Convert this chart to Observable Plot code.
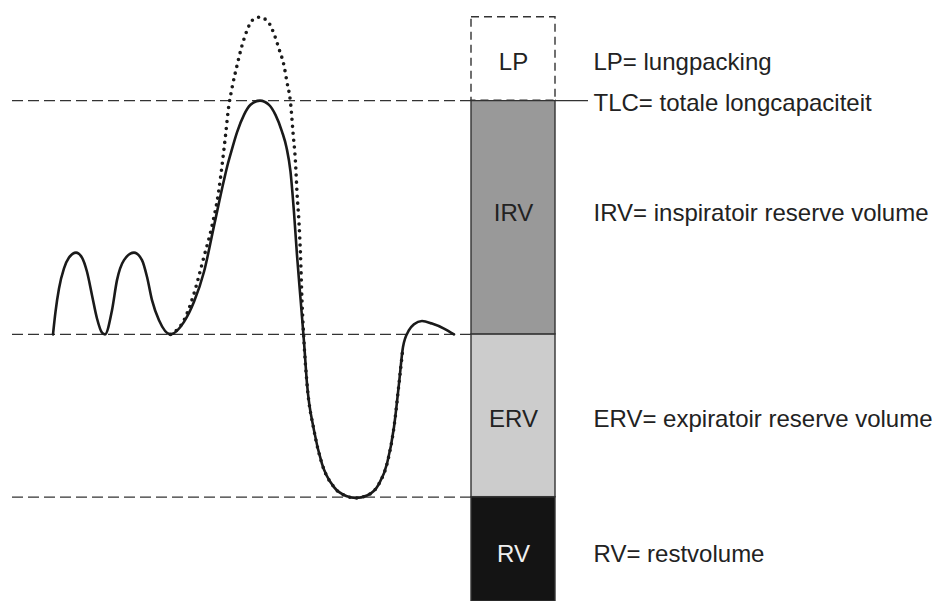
<!DOCTYPE html>
<html><head><meta charset="utf-8">
<script src="https://cdn.jsdelivr.net/npm/d3@7"></script>
<script src="https://cdn.jsdelivr.net/npm/@observablehq/plot@0.6"></script>
<style>
html,body{margin:0;padding:0;background:#fff;}
#chart svg{display:block;}
</style></head><body><div id="chart"></div>
<script>
// Lung volume levels (litres)
const levelNames = ["RV", "FRC", "TLC"];
const levelValues = [1.25, 3.2, 6.0];

// Stacked column segments
const segNames = ["RV", "ERV", "IRV", "LP"];
const segBottom = [0, 1.25, 3.2, 6.0];
const segTop = [1.25, 3.2, 6.0, 7.0];
const segLegend = ["RV= restvolume", "ERV= expiratoir reserve volume", "IRV= inspiratoir reserve volume", "LP= lungpacking"];
const tlcLabel = "TLC= totale longcapaciteit";

// Spirogram: time (s) and volume (L)
const breathT = [1.05,1.1,1.17,1.27,1.37,1.51,1.63,1.73,1.83,1.93,2.03,2.09,2.23,2.33,2.47,2.67,2.83,2.93,3.03,3.17,3.4,3.67,3.87,4.07,4.27,4.47,4.55,4.63,4.73,4.87,5.0,5.19,5.37,5.5,5.63,5.72,5.8,5.87,5.93,6.0,6.07,6.13,6.27,6.43,6.67,6.93,7.1,7.33,7.57,7.73,7.87,7.97,8.05,8.17,8.27,8.43,8.63,8.87,9.07];
const breathV = [3.2,3.47,3.75,3.99,4.12,4.18,4.12,3.95,3.67,3.39,3.22,3.2,3.49,3.85,4.09,4.18,4.09,3.89,3.61,3.37,3.2,3.35,3.59,3.95,4.5,5.05,5.25,5.42,5.62,5.83,5.95,6.0,5.95,5.83,5.63,5.44,5.15,4.66,4.15,3.63,3.11,2.61,2.05,1.65,1.37,1.26,1.24,1.27,1.41,1.65,2.09,2.61,3.05,3.25,3.32,3.36,3.33,3.27,3.2];

// Spirogram with lung packing (dotted)
const packT = [3.4,3.67,3.86,4.06,4.23,4.36,4.43,4.5,4.56,4.63,4.73,4.83,4.93,5.03,5.17,5.33,5.47,5.57,5.67,5.73,5.8,5.85,5.9,5.93,5.97,6.0,6.03,6.07,6.13,6.27,6.43,6.67,6.93,7.1,7.33,7.57,7.73,7.87,7.97,8.05];
const packV = [3.2,3.37,3.67,4.11,4.5,4.9,5.22,5.58,5.91,6.15,6.42,6.66,6.84,6.96,7.0,6.96,6.8,6.62,6.42,6.22,5.98,5.62,5.26,4.9,4.54,4.15,3.6,3.11,2.61,2.05,1.65,1.37,1.26,1.24,1.27,1.41,1.65,2.09,2.61,3.05];

// ---- layout (x in the same time units) ----
const DASH_X1 = 0.24, BAR_X1 = 9.42, BAR_X2 = 11.1, TICK_X2 = 11.76, LEGEND_X = 11.86;
const FONT = "'Liberation Sans', Arial, Helvetica, sans-serif";
const segFill = {RV: "#141414", ERV: "#cccccc", IRV: "#999999", LP: "#ffffff"};
const segText = {RV: "#f0f0f0", ERV: "#222", IRV: "#222", LP: "#222"};
const segDy = {RV: 5, ERV: 4, IRV: -4, LP: 3};

const breath = breathT.map((t, i) => ({t, v: breathV[i]}));
const pack = packT.map((t, i) => ({t, v: packV[i]}));
const levels = levelNames.map((name, i) => ({name, v: levelValues[i]}));
const segs = segNames.map((name, i) => ({name, bottom: segBottom[i], top: segTop[i], legend: segLegend[i], mid: (segBottom[i] + segTop[i]) / 2}));
const solidSegs = segs.filter(d => d.name !== "LP");
const lpSeg = segs.filter(d => d.name === "LP");

const labelMarks = segs.flatMap(s => [
  Plot.text([s], {x: (BAR_X1 + BAR_X2) / 2, y: "mid", text: "name", fill: segText[s.name], fontSize: 24, fontFamily: FONT, dy: segDy[s.name]}),
  Plot.text([s], {x: LEGEND_X, y: "mid", text: "legend", textAnchor: "start", fill: "#222", fontSize: 24, fontFamily: FONT, dy: segDy[s.name]})
]);

const chart = Plot.plot({
  width: 935,
  height: 601,
  margin: 0,
  style: {background: "#fff", fontFamily: FONT},
  x: {domain: [0, 18.7], axis: null},
  y: {domain: [0, 7.2], axis: null},
  color: {type: "identity"},
  marks: [
    Plot.ruleY(levels, {y: "v", x1: DASH_X1, x2: BAR_X1, stroke: "#333", strokeWidth: 1.3, strokeDasharray: "11,5"}),
    Plot.rect(solidSegs, {x1: BAR_X1, x2: BAR_X2, y1: "bottom", y2: "top", fill: d => segFill[d.name], stroke: "#333", strokeWidth: 1.4}),
    Plot.rect(lpSeg, {x1: BAR_X1, x2: BAR_X2, y1: "bottom", y2: "top", fill: d => segFill[d.name], stroke: "#333", strokeWidth: 1.4, strokeDasharray: "8,5"}),
    Plot.ruleY([levelValues[2]], {x1: BAR_X1, x2: BAR_X2, stroke: "#333", strokeWidth: 1.4}),
    Plot.ruleY([levelValues[2]], {x1: BAR_X2, x2: TICK_X2, stroke: "#333", strokeWidth: 1.3}),
    Plot.line(pack, {x: "t", y: "v", curve: "monotone-x", stroke: "#1a1a1a", strokeWidth: 3.6, strokeDasharray: "0,7", strokeLinecap: "round"}),
    Plot.line(breath, {x: "t", y: "v", curve: "monotone-x", stroke: "#1a1a1a", strokeWidth: 2.6}),
    ...labelMarks,
    Plot.text([tlcLabel], {x: LEGEND_X, y: levelValues[2], text: d => d, textAnchor: "start", fill: "#222", fontSize: 24, fontFamily: FONT, dy: 2.5})
  ]
});
document.getElementById("chart").appendChild(chart);
</script>
</body></html>
